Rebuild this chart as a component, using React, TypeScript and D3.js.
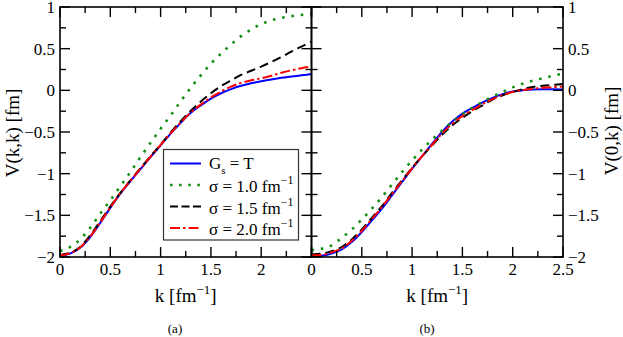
import React from "react";
import * as d3 from "d3";

const kGrid = [0, 0.1, 0.2, 0.3, 0.4, 0.5, 0.6, 0.7, 0.8, 0.9, 1.0, 1.1, 1.2, 1.3, 1.4, 1.5, 1.6, 1.7, 1.8, 1.9, 2.0, 2.1, 2.2, 2.3, 2.4, 2.5];

// Panel (a): V(k,k)
const aBlue = [-1.985, -1.96, -1.89, -1.76, -1.59, -1.41, -1.24, -1.09, -0.945, -0.80, -0.66, -0.52, -0.39, -0.27, -0.18, -0.10, -0.035, 0.015, 0.055, 0.085, 0.11, 0.13, 0.15, 0.165, 0.18, 0.195];
const aGreen = [-1.93, -1.88, -1.79, -1.65, -1.48, -1.32, -1.15, -0.98, -0.80, -0.63, -0.46, -0.30, -0.13, 0.03, 0.18, 0.32, 0.44, 0.55, 0.65, 0.73, 0.795, 0.84, 0.87, 0.89, 0.905, 0.915];
const aBlack = [-1.975, -1.95, -1.88, -1.74, -1.57, -1.395, -1.23, -1.08, -0.935, -0.79, -0.65, -0.505, -0.37, -0.245, -0.135, -0.035, 0.05, 0.12, 0.185, 0.235, 0.285, 0.34, 0.40, 0.465, 0.525, 0.585];
const aRed = [-1.98, -1.955, -1.885, -1.755, -1.585, -1.405, -1.235, -1.085, -0.94, -0.795, -0.655, -0.515, -0.385, -0.265, -0.17, -0.085, -0.015, 0.045, 0.09, 0.12, 0.145, 0.175, 0.21, 0.24, 0.265, 0.285];

// Panel (b): V(0,k)
const bBlue = [-1.99, -1.985, -1.96, -1.91, -1.82, -1.70, -1.56, -1.42, -1.26, -1.10, -0.94, -0.79, -0.64, -0.495, -0.375, -0.28, -0.21, -0.145, -0.09, -0.045, -0.015, 0.002, 0.01, 0.013, 0.013, 0.01];
const bGreen = [-1.92, -1.90, -1.86, -1.77, -1.67, -1.55, -1.42, -1.28, -1.13, -0.98, -0.84, -0.71, -0.59, -0.48, -0.38, -0.29, -0.21, -0.14, -0.075, -0.02, 0.035, 0.08, 0.115, 0.145, 0.175, 0.20];
const bBlack = [-1.97, -1.96, -1.93, -1.88, -1.79, -1.67, -1.53, -1.39, -1.23, -1.08, -0.93, -0.79, -0.66, -0.53, -0.42, -0.33, -0.25, -0.18, -0.11, -0.06, -0.02, 0.015, 0.04, 0.055, 0.065, 0.075];
const bRed = [-1.98, -1.975, -1.945, -1.895, -1.805, -1.685, -1.545, -1.40, -1.245, -1.09, -0.935, -0.79, -0.65, -0.515, -0.40, -0.31, -0.235, -0.165, -0.105, -0.055, -0.02, 0.005, 0.02, 0.03, 0.038, 0.045];

const xTicksA = [0, 0.5, 1, 1.5, 2];
const xTicksB = [0, 0.5, 1, 1.5, 2, 2.5];
const yTicks = [-2, -1.5, -1, -0.5, 0, 0.5, 1];
const minorX = [0.25, 0.75, 1.25, 1.75, 2.25];
const minorY = [-1.75, -1.25, -0.75, -0.25, 0.25, 0.75];

const legendLabels = ["σ = 1.0 fm", "σ = 1.5 fm", "σ = 2.0 fm"];

const BLUE = "#0000ff";
const GREEN = "#138f13";
const BLACK = "#000000";
const RED = "#ff0000";
const FONT = "'Liberation Serif', 'Times New Roman', Times, 'DejaVu Serif', serif";

const styles = [
  { color: BLUE, dash: undefined as string | undefined, width: 2 },
  { color: GREEN, dash: "2.6 6.8", width: 2.6 },
  { color: BLACK, dash: "9 5", width: 2 },
  { color: RED, dash: "10 3 2.5 3", width: 2 },
];

const fmt = (v: number) => (v < 0 ? "\u2212" + String(-v) : String(v));

export default function App() {
  const y = d3.scaleLinear().domain([-2, 1]).range([257, 7]);
  const xA = d3.scaleLinear().domain([0, 2.5]).range([60, 311.5]);
  const xB = d3.scaleLinear().domain([0, 2.5]).range([311.5, 563]);

  const seriesA = [aBlue, aGreen, aBlack, aRed];
  const seriesB = [bBlue, bGreen, bBlack, bRed];

  const mkLine = (x: d3.ScaleLinear<number, number>) =>
    d3
      .line<number>()
      .x((_, i) => x(kGrid[i]))
      .y((d) => y(d))
      .curve(d3.curveMonotoneX);

  const top = y(1);
  const bot = y(-2);

  const panel = (x: d3.ScaleLinear<number, number>, series: number[][], xTicks: number[], key: string) => {
    const line = mkLine(x);
    const [x0, x1] = x.range();
    return (
      <g key={key}>
        {series.map((s, i) => (
          <path
            key={i}
            d={line(s) || ""}
            fill="none"
            stroke={styles[i].color}
            strokeWidth={styles[i].width}
            strokeDasharray={styles[i].dash}
          />
        ))}
        {[0, 0.5, 1, 1.5, 2, 2.5].map((t) => (
          <g key={"xt" + t}>
            <line x1={x(t)} x2={x(t)} y1={bot} y2={bot - 10} stroke="#000" strokeWidth={1.4} />
            <line x1={x(t)} x2={x(t)} y1={top} y2={top + 10} stroke="#000" strokeWidth={1.4} />
          </g>
        ))}
        {minorX.map((t) => (
          <g key={"xm" + t}>
            <line x1={x(t)} x2={x(t)} y1={bot} y2={bot - 6} stroke="#000" strokeWidth={1.4} />
            <line x1={x(t)} x2={x(t)} y1={top} y2={top + 6} stroke="#000" strokeWidth={1.4} />
          </g>
        ))}
        {yTicks.map((t) => (
          <g key={"yt" + t}>
            <line x1={x0} x2={x0 + 10} y1={y(t)} y2={y(t)} stroke="#000" strokeWidth={1.4} />
            <line x1={x1} x2={x1 - 10} y1={y(t)} y2={y(t)} stroke="#000" strokeWidth={1.4} />
          </g>
        ))}
        {minorY.map((t) => (
          <g key={"ym" + t}>
            <line x1={x0} x2={x0 + 6} y1={y(t)} y2={y(t)} stroke="#000" strokeWidth={1.4} />
            <line x1={x1} x2={x1 - 6} y1={y(t)} y2={y(t)} stroke="#000" strokeWidth={1.4} />
          </g>
        ))}
        {xTicks.map((t) => (
          <text key={"xl" + t} x={x(t)} y={275} textAnchor="middle" fontSize={17} fontFamily={FONT}>
            {fmt(t)}
          </text>
        ))}
        <rect x={x0} y={top} width={x1 - x0} height={bot - top} fill="none" stroke="#000" strokeWidth={1.6} />
        <text x={(x0 + x1) / 2} y={302} textAnchor="middle" fontSize={19} fontFamily={FONT}>
          k [fm
          <tspan dy={-8} fontSize={13}>{"\u22121"}</tspan>
          <tspan dy={8}>]</tspan>
        </text>
      </g>
    );
  };

  const legendRowsY = [163.5, 185, 206.5, 228];

  return (
    <svg width={623} height={337} style={{ position: "absolute", left: 0, top: 0, background: "#fff" }}>
      <rect x={0} y={0} width={623} height={337} fill="#fff" />
      {panel(xA, seriesA, xTicksA, "a")}
      {panel(xB, seriesB, xTicksB, "b")}

      {yTicks.map((t) => (
        <text key={"ylA" + t} x={55} y={y(t) + 6} textAnchor="end" fontSize={17} fontFamily={FONT}>
          {fmt(t)}
        </text>
      ))}
      {yTicks.map((t) => (
        <text key={"ylB" + t} x={568} y={y(t) + 6} textAnchor="start" fontSize={17} fontFamily={FONT}>
          {fmt(t)}
        </text>
      ))}

      <text transform="translate(19,133) rotate(-90)" textAnchor="middle" fontSize={19} fontFamily={FONT}>
        V(k,k) [fm]
      </text>
      <text transform="translate(618,131) rotate(-90)" textAnchor="middle" fontSize={19} fontFamily={FONT}>
        V(0,k) [fm]
      </text>

      <text x={175} y={333} textAnchor="middle" fontSize={13} fontFamily={FONT}>(a)</text>
      <text x={427} y={333} textAnchor="middle" fontSize={13} fontFamily={FONT}>(b)</text>

      <rect x={163.5} y={149.5} width={135} height={90.5} fill="#fff" stroke="#333" strokeWidth={1.2} />
      {legendRowsY.map((ly, i) => (
        <line
          key={"lg" + i}
          x1={170}
          x2={201}
          y1={ly}
          y2={ly}
          stroke={styles[i].color}
          strokeWidth={styles[i].width}
          strokeDasharray={i === 1 ? "2.6 6.5" : i === 2 ? "8 3.5" : styles[i].dash}
        />
      ))}
      <text x={209} y={legendRowsY[0] + 5} fontSize={17} fontFamily={FONT}>
        G<tspan dy={5} fontSize={11}>s</tspan>
        <tspan dy={-5}> = T</tspan>
      </text>
      {legendLabels.map((lab, i) => (
        <text key={"lt" + i} x={209} y={legendRowsY[i + 1] + 7} fontSize={17} fontFamily={FONT}>
          {lab}
          <tspan dy={-8} fontSize={12}>{"\u22121"}</tspan>
        </text>
      ))}
    </svg>
  );
}
